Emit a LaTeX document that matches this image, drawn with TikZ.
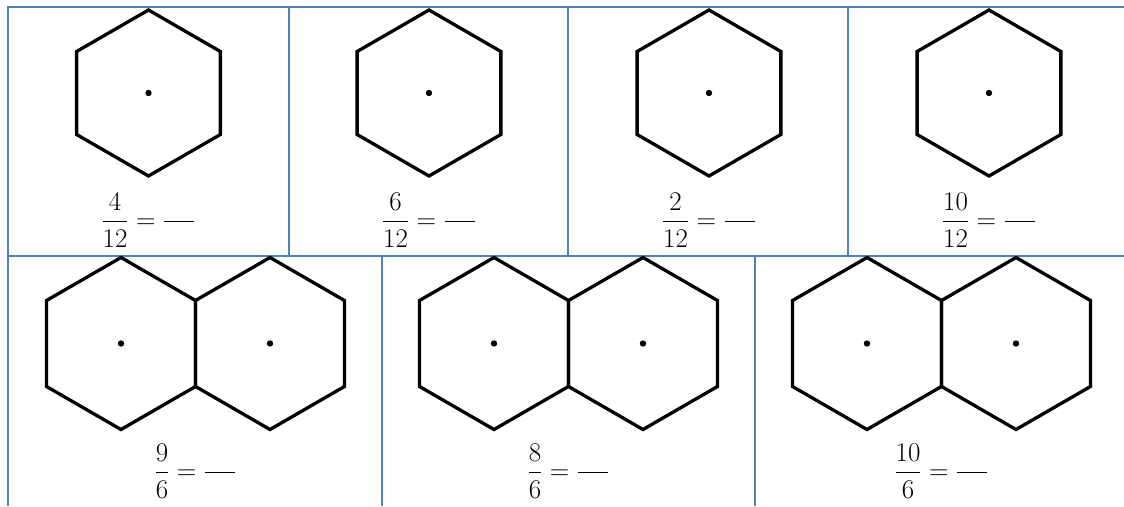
\RequirePackage{fix-cm}
\documentclass[tikz,border=0pt]{standalone}
\usepackage{amsmath}
\usepackage{tikz}
\usetikzlibrary{shapes.geometric}
\definecolor{gridblue}{HTML}{4F81BD}
\newcommand{\blankfrac}{\dfrac{\hspace{30pt}}{}}

\begin{document}
\begin{tikzpicture}[
    x=1pt, y=-1pt,
    grid/.style={draw=gridblue, line width=2pt},
    hexa/.style={regular polygon, regular polygon sides=6, rotate=30, draw=black, line width=3.3pt, inner sep=0pt, minimum size=166pt},
    bighexa/.style={hexa, minimum size=172pt},
    frac/.style={anchor=base, font=\fontsize{27}{32}\selectfont, inner sep=0pt}
]
\useasboundingbox (0,0) rectangle (1124,506);

% Table lines
\draw[grid] (7,7) -- (1124,7);
\draw[grid] (7,256) -- (1124,256);
\draw[grid] (8,7) -- (8,506);
\draw[grid] (289,7) -- (289,256);
\draw[grid] (568,7) -- (568,256);
\draw[grid] (848,7) -- (848,256);
\draw[grid] (382,256) -- (382,506);
\draw[grid] (755,256) -- (755,506);

% Top row
\node[hexa] (hexA) at (148.5,93) {};
\node[hexa] (hexB) at (429,93) {};
\node[hexa] (hexC) at (709,93) {};
\node[hexa] (hexD) at (989,93) {};
\fill (hexA.center) circle (3.2pt);
\fill (hexB.center) circle (3.2pt);
\fill (hexC.center) circle (3.2pt);
\fill (hexD.center) circle (3.2pt);
\node[frac] (fracA) at (148.5,228.7) {$\dfrac{4}{12}=\blankfrac$};
\node[frac] (fracB) at (429,228.7) {$\dfrac{6}{12}=\blankfrac$};
\node[frac] (fracC) at (709,228.7) {$\dfrac{2}{12}=\blankfrac$};
\node[frac] (fracD) at (989,228.7) {$\dfrac{10}{12}=\blankfrac$};

% Bottom row
\node[bighexa] (hexEl) at (121,343.5) {};
\node[bighexa] (hexEr) at (270,343.5) {};
\node[bighexa] (hexFl) at (494,343.5) {};
\node[bighexa] (hexFr) at (643,343.5) {};
\node[bighexa] (hexGl) at (867,343.5) {};
\node[bighexa] (hexGr) at (1016,343.5) {};
\fill (hexEl.center) circle (3.2pt);
\fill (hexEr.center) circle (3.2pt);
\fill (hexFl.center) circle (3.2pt);
\fill (hexFr.center) circle (3.2pt);
\fill (hexGl.center) circle (3.2pt);
\fill (hexGr.center) circle (3.2pt);
\node[frac] (fracE) at (195.5,479.7) {$\dfrac{9}{6}=\blankfrac$};
\node[frac] (fracF) at (568.5,479.7) {$\dfrac{8}{6}=\blankfrac$};
\node[frac] (fracG) at (941.5,479.7) {$\dfrac{10}{6}=\blankfrac$};
\end{tikzpicture}
\end{document}
